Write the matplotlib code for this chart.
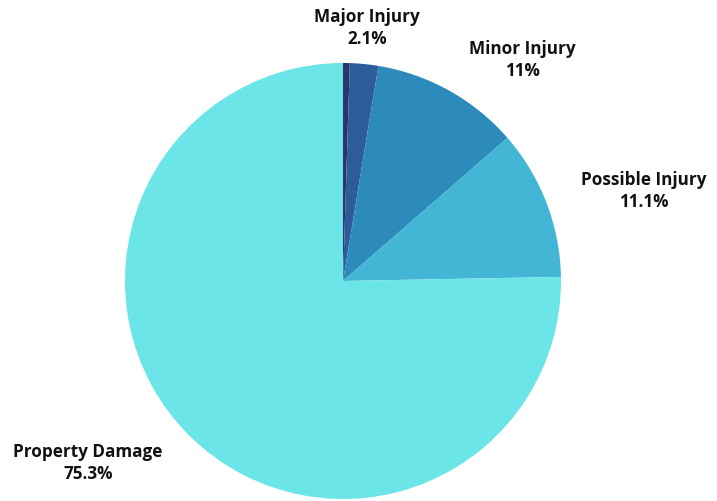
import matplotlib.pyplot as plt

categories = ['Fatal', 'Major Injury', 'Minor Injury', 'Possible Injury', 'Property Damage']
values = [0.5, 2.1, 11, 11.1, 75.3]
labels = ['', 'Major Injury\n2.1%', 'Minor Injury\n11%', 'Possible Injury\n11.1%', 'Property Damage\n75.3%']
colors = ['#29366b', '#2e5b99', '#2d8bbb', '#43b6d6', '#6be5e8']

# label anchor points in pixel coords (x, y from top)
label_pos = [None, (367, 28), (522, 60), (644, 191), (88, 463)]

W, H = 717, 502
fig = plt.figure(figsize=(W / 100, H / 100), dpi=100)
ax = fig.add_axes([0, 0, 1, 1])

ax.pie(values, colors=colors, startangle=90, counterclock=False,
       center=(343, H - 282), radius=218, frame=True,
       wedgeprops=dict(linewidth=0))
ax.set_xlim(0, W)
ax.set_ylim(0, H)
ax.set_aspect('equal')
ax.axis('off')

for lab, pos in zip(labels, label_pos):
    if pos is None:
        continue
    ax.text(pos[0], H - pos[1], lab, ha='center', va='center',
            fontsize=12.3, fontweight='bold', family='Open Sans',
            color='#111111', linespacing=1.35)

fig.savefig('out.png', dpi=100)
